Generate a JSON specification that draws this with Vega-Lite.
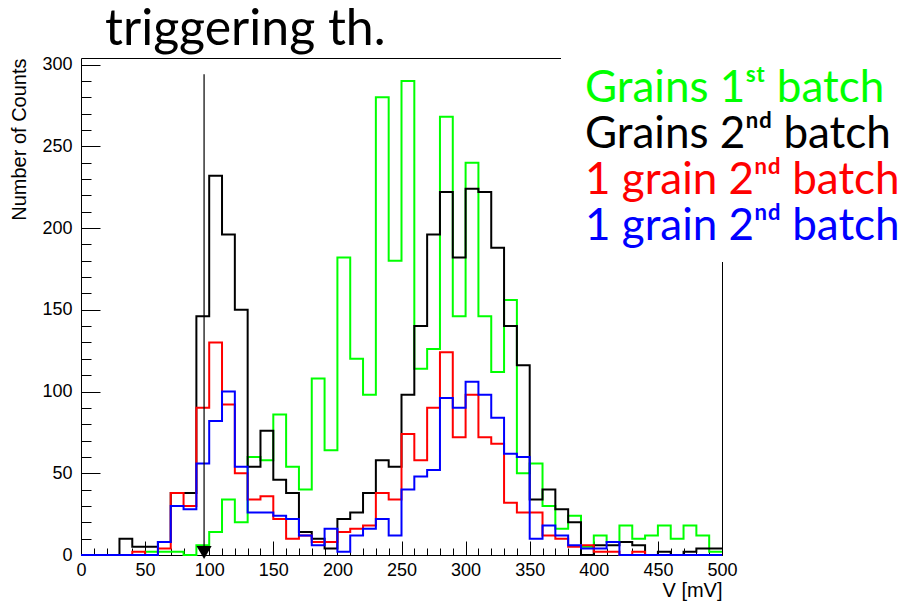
{
  "$schema": "https://vega.github.io/schema/vega-lite/v6.json",
  "width": 641,
  "height": 497,
  "autosize": "none",
  "padding": {"left": 81, "top": 58, "right": 188, "bottom": 47},
  "background": "white",
  "config": {
    "view": {"stroke": "black", "strokeWidth": 1},
    "axis": {"grid": false, "domain": false, "tickColor": "black", "tickWidth": 1, "labelColor": "black", "titleColor": "black"}
  },
  "title": {
    "text": "triggering th.",
    "anchor": "start",
    "frame": "group",
    "font": "Lato",
    "fontSize": 50,
    "fontWeight": "normal",
    "color": "black",
    "dx": 24,
    "dy": 54,
    "offset": 13,
    "baseline": "alphabetic"
  },
  "layer": [
    {
      "data": {"values": [
        {"s":"1","v":0,"c":0},{"s":"1","v":10,"c":0},{"s":"1","v":20,"c":0},{"s":"1","v":30,"c":0},{"s":"1","v":40,"c":0},{"s":"1","v":50,"c":2},{"s":"1","v":60,"c":2},{"s":"1","v":70,"c":2},{"s":"1","v":80,"c":0},{"s":"1","v":90,"c":6},
        {"s":"1","v":100,"c":14},{"s":"1","v":110,"c":34},{"s":"1","v":120,"c":20},{"s":"1","v":130,"c":60},{"s":"1","v":140,"c":58},{"s":"1","v":150,"c":86},{"s":"1","v":160,"c":54},{"s":"1","v":170,"c":40},{"s":"1","v":180,"c":108},{"s":"1","v":190,"c":64},
        {"s":"1","v":200,"c":182},{"s":"1","v":210,"c":120},{"s":"1","v":220,"c":98},{"s":"1","v":230,"c":280},{"s":"1","v":240,"c":180},{"s":"1","v":250,"c":290},{"s":"1","v":260,"c":114},{"s":"1","v":270,"c":126},{"s":"1","v":280,"c":268},{"s":"1","v":290,"c":146},
        {"s":"1","v":300,"c":240},{"s":"1","v":310,"c":146},{"s":"1","v":320,"c":112},{"s":"1","v":330,"c":156},{"s":"1","v":340,"c":50},{"s":"1","v":350,"c":56},{"s":"1","v":360,"c":30},{"s":"1","v":370,"c":16},{"s":"1","v":380,"c":24},{"s":"1","v":390,"c":5},
        {"s":"1","v":400,"c":12},{"s":"1","v":410,"c":8},{"s":"1","v":420,"c":18},{"s":"1","v":430,"c":10},{"s":"1","v":440,"c":12},{"s":"1","v":450,"c":18},{"s":"1","v":460,"c":10},{"s":"1","v":470,"c":18},{"s":"1","v":480,"c":12},{"s":"1","v":490,"c":2},{"s":"1","v":500,"c":2},
        {"s":"2","v":0,"c":0},{"s":"2","v":10,"c":0},{"s":"2","v":20,"c":0},{"s":"2","v":30,"c":10},{"s":"2","v":40,"c":5},{"s":"2","v":50,"c":5},{"s":"2","v":60,"c":8},{"s":"2","v":70,"c":38},{"s":"2","v":80,"c":38},{"s":"2","v":90,"c":146},
        {"s":"2","v":100,"c":232},{"s":"2","v":110,"c":196},{"s":"2","v":120,"c":150},{"s":"2","v":130,"c":54},{"s":"2","v":140,"c":76},{"s":"2","v":150,"c":46},{"s":"2","v":160,"c":38},{"s":"2","v":170,"c":14},{"s":"2","v":180,"c":10},{"s":"2","v":190,"c":4},
        {"s":"2","v":200,"c":22},{"s":"2","v":210,"c":26},{"s":"2","v":220,"c":38},{"s":"2","v":230,"c":58},{"s":"2","v":240,"c":54},{"s":"2","v":250,"c":98},{"s":"2","v":260,"c":140},{"s":"2","v":270,"c":196},{"s":"2","v":280,"c":222},{"s":"2","v":290,"c":182},
        {"s":"2","v":300,"c":224},{"s":"2","v":310,"c":222},{"s":"2","v":320,"c":188},{"s":"2","v":330,"c":140},{"s":"2","v":340,"c":116},{"s":"2","v":350,"c":34},{"s":"2","v":360,"c":40},{"s":"2","v":370,"c":28},{"s":"2","v":380,"c":20},{"s":"2","v":390,"c":0},
        {"s":"2","v":400,"c":6},{"s":"2","v":410,"c":6},{"s":"2","v":420,"c":8},{"s":"2","v":430,"c":6},{"s":"2","v":440,"c":0},{"s":"2","v":450,"c":2},{"s":"2","v":460,"c":0},{"s":"2","v":470,"c":2},{"s":"2","v":480,"c":4},{"s":"2","v":490,"c":4},{"s":"2","v":500,"c":4},
        {"s":"3","v":0,"c":0},{"s":"3","v":10,"c":0},{"s":"3","v":20,"c":0},{"s":"3","v":30,"c":0},{"s":"3","v":40,"c":2},{"s":"3","v":50,"c":0},{"s":"3","v":60,"c":4},{"s":"3","v":70,"c":38},{"s":"3","v":80,"c":30},{"s":"3","v":90,"c":90},
        {"s":"3","v":100,"c":130},{"s":"3","v":110,"c":92},{"s":"3","v":120,"c":50},{"s":"3","v":130,"c":34},{"s":"3","v":140,"c":36},{"s":"3","v":150,"c":22},{"s":"3","v":160,"c":10},{"s":"3","v":170,"c":12},{"s":"3","v":180,"c":8},{"s":"3","v":190,"c":8},
        {"s":"3","v":200,"c":14},{"s":"3","v":210,"c":16},{"s":"3","v":220,"c":18},{"s":"3","v":230,"c":38},{"s":"3","v":240,"c":34},{"s":"3","v":250,"c":74},{"s":"3","v":260,"c":58},{"s":"3","v":270,"c":90},{"s":"3","v":280,"c":124},{"s":"3","v":290,"c":72},
        {"s":"3","v":300,"c":98},{"s":"3","v":310,"c":72},{"s":"3","v":320,"c":68},{"s":"3","v":330,"c":32},{"s":"3","v":340,"c":26},{"s":"3","v":350,"c":26},{"s":"3","v":360,"c":12},{"s":"3","v":370,"c":10},{"s":"3","v":380,"c":5},{"s":"3","v":390,"c":6},
        {"s":"3","v":400,"c":2},{"s":"3","v":410,"c":2},{"s":"3","v":420,"c":0},{"s":"3","v":430,"c":2},{"s":"3","v":440,"c":0},{"s":"3","v":450,"c":0},{"s":"3","v":460,"c":0},{"s":"3","v":470,"c":0},{"s":"3","v":480,"c":0},{"s":"3","v":490,"c":0},{"s":"3","v":500,"c":0},
        {"s":"4","v":0,"c":0},{"s":"4","v":10,"c":0},{"s":"4","v":20,"c":0},{"s":"4","v":30,"c":0},{"s":"4","v":40,"c":0},{"s":"4","v":50,"c":0},{"s":"4","v":60,"c":8},{"s":"4","v":70,"c":30},{"s":"4","v":80,"c":28},{"s":"4","v":90,"c":56},
        {"s":"4","v":100,"c":82},{"s":"4","v":110,"c":100},{"s":"4","v":120,"c":54},{"s":"4","v":130,"c":26},{"s":"4","v":140,"c":26},{"s":"4","v":150,"c":24},{"s":"4","v":160,"c":22},{"s":"4","v":170,"c":12},{"s":"4","v":180,"c":6},{"s":"4","v":190,"c":16},
        {"s":"4","v":200,"c":2},{"s":"4","v":210,"c":12},{"s":"4","v":220,"c":16},{"s":"4","v":230,"c":22},{"s":"4","v":240,"c":12},{"s":"4","v":250,"c":40},{"s":"4","v":260,"c":48},{"s":"4","v":270,"c":52},{"s":"4","v":280,"c":96},{"s":"4","v":290,"c":90},
        {"s":"4","v":300,"c":106},{"s":"4","v":310,"c":98},{"s":"4","v":320,"c":84},{"s":"4","v":330,"c":62},{"s":"4","v":340,"c":60},{"s":"4","v":350,"c":10},{"s":"4","v":360,"c":18},{"s":"4","v":370,"c":12},{"s":"4","v":380,"c":6},{"s":"4","v":390,"c":4},
        {"s":"4","v":400,"c":4},{"s":"4","v":410,"c":8},{"s":"4","v":420,"c":0},{"s":"4","v":430,"c":0},{"s":"4","v":440,"c":0},{"s":"4","v":450,"c":0},{"s":"4","v":460,"c":0},{"s":"4","v":470,"c":0},{"s":"4","v":480,"c":0},{"s":"4","v":490,"c":0},{"s":"4","v":500,"c":0}
      ]},
      "mark": {"type": "line", "interpolate": "step-after", "strokeWidth": 2},
      "encoding": {
        "x": {
          "field": "v", "type": "quantitative",
          "scale": {"domain": [0, 500], "nice": false},
          "axis": {
            "orient": "bottom",
            "values": [0, 50, 100, 150, 200, 250, 300, 350, 400, 450, 500],
            "tickSize": -14,
            "labelFont": "Liberation Sans", "labelFontSize": 18, "labelPadding": 20,
            "labelFlush": false, "labelOverlap": false,
            "title": "V [mV]", "titleFont": "Liberation Sans", "titleFontSize": 20, "titleFontWeight": "normal",
            "titleAnchor": "end", "titlePadding": 1
          }
        },
        "y": {
          "field": "c", "type": "quantitative",
          "scale": {"domain": [0, 304], "nice": false},
          "axis": {
            "orient": "left",
            "values": [0, 50, 100, 150, 200, 250, 300],
            "tickSize": -19,
            "labelFont": "Liberation Sans", "labelFontSize": 18, "labelPadding": 28,
            "labelFlush": false, "labelOverlap": false,
            "title": "Number of Counts", "titleFont": "Liberation Sans", "titleFontSize": 20, "titleFontWeight": "normal",
            "titleAnchor": "end", "titlePadding": 12
          }
        },
        "color": {
          "field": "s", "type": "nominal",
          "scale": {"domain": ["1", "2", "3", "4"], "range": ["#00ff00", "#000000", "#ff0000", "#0000ff"]},
          "legend": {
            "orient": "none", "legendX": 480, "legendY": -4,
            "title": null, "fillColor": "white", "padding": 13,
            "symbolType": "circle", "symbolSize": 0, "symbolOpacity": 0, "symbolStrokeWidth": 0,
            "labelOffset": -33, "labelFont": "Lato", "labelFontSize": 44, "labelLimit": 500,
            "rowPadding": 2, "zindex": 2,
            "labelExpr": "datum.value === '1' ? 'Grains 1ˢᵗ batch' : datum.value === '2' ? 'Grains 2ⁿᵈ batch' : '1 grain 2ⁿᵈ batch'",
            "encode": {"labels": {"update": {"fill": {"scale": "color", "field": "value"}}}}
          }
        }
      }
    },
    {
      "data": {"values": [{"thr": 96, "lo": 0, "top": 294}]},
      "mark": {"type": "rule", "color": "black", "strokeWidth": 1.2},
      "encoding": {
        "x": {
          "field": "thr", "type": "quantitative",
          "axis": {
            "orient": "bottom",
            "values": [0,10,20,30,40,50,60,70,80,90,100,110,120,130,140,150,160,170,180,190,200,210,220,230,240,250,260,270,280,290,300,310,320,330,340,350,360,370,380,390,400,410,420,430,440,450,460,470,480,490,500],
            "tickSize": -7, "labels": false, "title": null
          }
        },
        "y": {
          "field": "lo", "type": "quantitative",
          "axis": {
            "orient": "left",
            "values": [0,10,20,30,40,50,60,70,80,90,100,110,120,130,140,150,160,170,180,190,200,210,220,230,240,250,260,270,280,290,300],
            "tickSize": -10, "labels": false, "title": null
          }
        },
        "y2": {"field": "top"}
      }
    },
    {
      "data": {"values": [{"thr": 96, "mk": 1.5}]},
      "mark": {"type": "point", "shape": "triangle-down", "filled": true, "color": "black", "size": 230, "opacity": 1},
      "encoding": {
        "x": {"field": "thr", "type": "quantitative", "axis": null},
        "y": {"field": "mk", "type": "quantitative", "axis": null}
      }
    }
  ],
  "resolve": {"axis": {"x": "independent", "y": "independent"}}
}
